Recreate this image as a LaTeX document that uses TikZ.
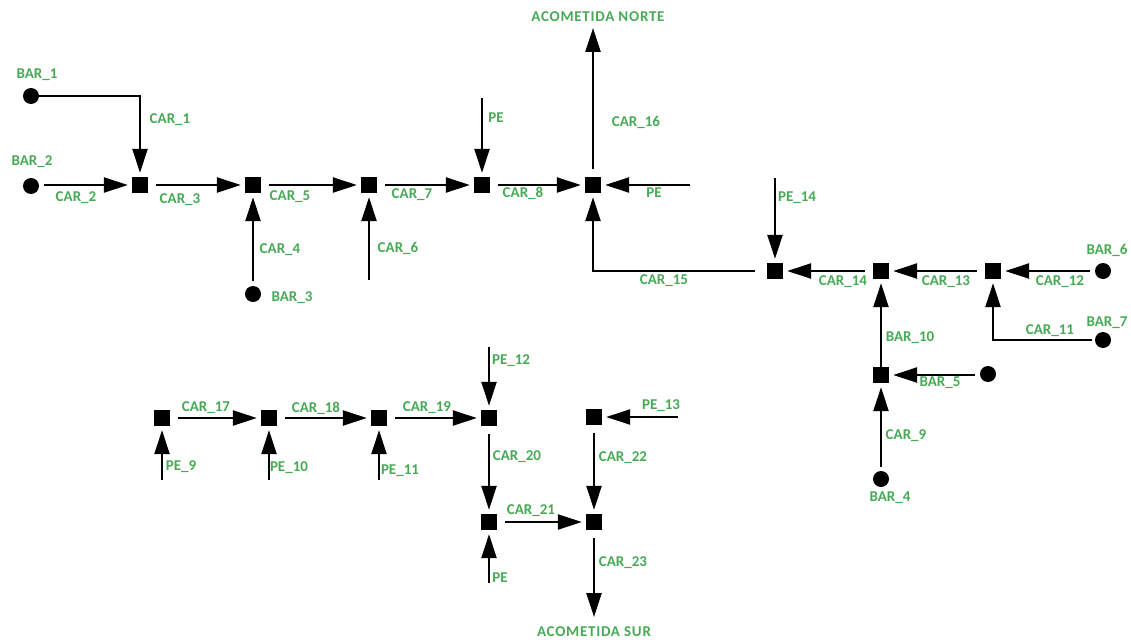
\documentclass[tikz,border=0pt]{standalone}
\usepackage{fontspec}
\setmainfont{Carlito}
\usetikzlibrary{arrows.meta}
\definecolor{lblgreen}{RGB}{72,170,86}
\tikzset{
  sq/.style={rectangle,fill=black,minimum size=16pt,inner sep=0pt},
  dot/.style={circle,fill=black,minimum size=16pt,inner sep=0pt},
  lbl/.style={text=lblgreen,font=\bfseries\fontsize{15pt}{17pt}\selectfont,inner sep=0pt},
  biglbl/.style={lbl,font=\bfseries\fontsize{15pt}{17pt}\selectfont\addfontfeature{LetterSpace=5}},
  wire/.style={line width=2.5pt,-{Triangle[length=24pt,width=15pt]},shorten >=4pt},
  fromsq/.style={wire,shorten <=8pt},
}
\begin{document}
\begin{tikzpicture}[x=1pt,y=-1pt]
\path[use as bounding box,fill=white] (0,0) rectangle (1131,642);

% upper feeder toward the northern service entrance
\node[sq] (s1) at (140,185) {};
\node[sq] (s2) at (253,185) {};
\node[sq] (s3) at (369,185) {};
\node[sq] (s4) at (482,185) {};
\node[sq] (s5) at (593,185) {};
\node[dot] (b1) at (31,96) {};
\node[dot] (b2) at (31,186) {};
\node[dot] (b3) at (253,294) {};
\coordinate (c6) at (369,280);
\coordinate (pe4) at (482,98);
\coordinate (pe5) at (690,185);
\coordinate (an) at (593,28);

\draw[wire] (b1.east) -| (s1);
\draw[wire,shorten <=5pt] (b2.east |- s1) -- (s1);
\draw[fromsq] (s1) -- (s2);
\draw[wire,shorten <=5pt] (b3) -- (s2);
\draw[fromsq] (s2) -- (s3);
\draw[wire] (c6) -- (s3);
\draw[fromsq] (s3) -- (s4);
\draw[wire] (pe4) -- (s4);
\draw[fromsq] (s4) -- (s5);
\draw[wire] (pe5) -- (s5);
\draw[fromsq,shorten >=0pt] (s5) -- (an);

\node[lbl] at (37,75) {BAR\_1};
\node[lbl] at (32,162) {BAR\_2};
\node[lbl] at (170,120) {CAR\_1};
\node[lbl] at (76,198) {CAR\_2};
\node[lbl] at (180,200) {CAR\_3};
\node[lbl] at (280,250) {CAR\_4};
\node[lbl] at (292,298) {BAR\_3};
\node[lbl] at (290,197) {CAR\_5};
\node[lbl] at (398,248) {CAR\_6};
\node[lbl] at (412,195) {CAR\_7};
\node[lbl] at (523,193) {CAR\_8};
\node[lbl] at (496,118) {PE};
\node[lbl] at (654,193) {PE};
\node[lbl] at (636,122) {CAR\_16};
\node[biglbl] at (598,17) {ACOMETIDA NORTE};

% eastern branch
\node[sq] (s6) at (775,271) {};
\node[sq] (s7) at (881,271) {};
\node[sq] (s8) at (993,271) {};
\node[sq] (s9) at (881,375) {};
\node[dot] (b6) at (1103,271) {};
\node[dot] (b7) at (1103,340) {};
\node[dot] (b5) at (988,374) {};
\node[dot] (b4) at (881,479) {};
\coordinate (pe14) at (775,178);

\draw[fromsq,shorten <=12pt] (s6.west) -| (s5);
\draw[wire] (pe14) -- (s6);
\draw[fromsq] (s7) -- (s6);
\draw[fromsq] (s8) -- (s7);
\draw[wire,shorten <=5pt] (b6) -- (s8);
\draw[wire,shorten <=3pt] (b7.west) -| (s8);
\draw[wire] (s9) -- (s7);
\draw[wire,shorten <=5pt] (b5.west |- s9) -- (s9);
\draw[wire,shorten <=4pt] (b4) -- (s9);

\node[lbl] at (797,198) {PE\_14};
\node[lbl] at (664,281) {CAR\_15};
\node[lbl] at (843,282) {CAR\_14};
\node[lbl] at (946,282) {CAR\_13};
\node[lbl] at (1060,282) {CAR\_12};
\node[lbl] at (1107,250) {BAR\_6};
\node[lbl] at (1050,331) {CAR\_11};
\node[lbl] at (1107,323) {BAR\_7};
\node[lbl] at (910,338) {BAR\_10};
\node[lbl] at (940,383) {BAR\_5};
\node[lbl] at (906,436) {CAR\_9};
\node[lbl] at (890,498) {BAR\_4};

% lower feeder toward the southern service entrance
\node[sq] (s10) at (162,418) {};
\node[sq] (s11) at (269,418) {};
\node[sq] (s12) at (379,418) {};
\node[sq] (s13) at (489,418) {};
\node[sq] (s14) at (594,417) {};
\node[sq] (s15) at (489,522) {};
\node[sq] (s16) at (594,522) {};
\coordinate (pe9) at (162,480);
\coordinate (pe10) at (269,480);
\coordinate (pe11) at (379,480);
\coordinate (pe12) at (489,347);
\coordinate (pe13) at (678,417);
\coordinate (pe15) at (489,583);
\coordinate (as) at (594,617);

\draw[fromsq] (s10) -- (s11);
\draw[fromsq] (s11) -- (s12);
\draw[fromsq] (s12) -- (s13);
\draw[wire] (pe9) -- (s10);
\draw[wire] (pe10) -- (s11);
\draw[wire] (pe11) -- (s12);
\draw[wire] (pe12) -- (s13);
\draw[wire] (pe13) -- (s14);
\draw[fromsq] (s13) -- (s15);
\draw[fromsq] (s14) -- (s16);
\draw[fromsq] (s15) -- (s16);
\draw[wire] (pe15) -- (s15);
\draw[fromsq,shorten >=0pt] (s16) -- (as);

\node[lbl] at (206,408) {CAR\_17};
\node[lbl] at (316,408) {CAR\_18};
\node[lbl] at (427,408) {CAR\_19};
\node[lbl] at (181,467) {PE\_9};
\node[lbl] at (289,468) {PE\_10};
\node[lbl] at (400,471) {PE\_11};
\node[lbl] at (511,361) {PE\_12};
\node[lbl] at (661,406) {PE\_13};
\node[lbl] at (517,457) {CAR\_20};
\node[lbl] at (623,458) {CAR\_22};
\node[lbl] at (531,511) {CAR\_21};
\node[lbl] at (500,578) {PE};
\node[lbl] at (623,563) {CAR\_23};
\node[biglbl] at (594,632) {ACOMETIDA SUR};
\end{tikzpicture}
\end{document}
